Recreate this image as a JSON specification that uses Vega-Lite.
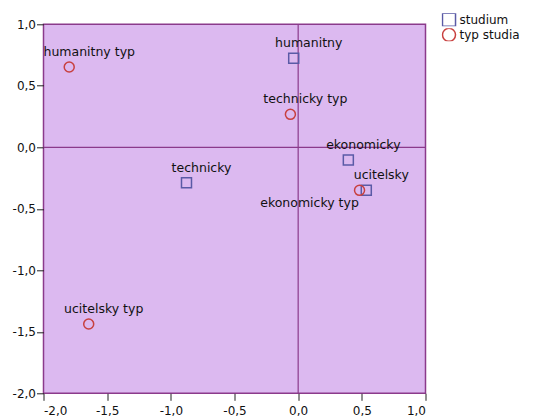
{
  "$schema": "https://vega.github.io/schema/vega-lite/v6.json",
  "width": 382,
  "height": 369,
  "autosize": {"type": "none"},
  "padding": {"left": 43.5, "top": 24.3, "right": 115, "bottom": 25.7},
  "background": "white",
  "config": {
    "view": {"fill": "#dcb9f0", "stroke": "#8b3a8b", "strokeWidth": 1.5},
    "font": "DejaVu Sans",
    "axis": {"grid": false, "domain": false, "tickColor": "#222", "tickSize": 7, "labelFontSize": 12, "labelColor": "#111", "title": null, "labelFont": "DejaVu Sans"}
  },
  "data": {
    "values": [
      {"name": "humanitny", "dim1": -0.035, "dim2": 0.724, "series": "studium"},
      {"name": "technicky", "dim1": -0.877, "dim2": -0.288, "series": "studium"},
      {"name": "ekonomicky", "dim1": 0.394, "dim2": -0.103, "series": "studium"},
      {"name": "ucitelsky", "dim1": 0.535, "dim2": -0.35, "series": "studium"},
      {"name": "humanitny typ", "dim1": -1.798, "dim2": 0.653, "series": "typ studia"},
      {"name": "technicky typ", "dim1": -0.061, "dim2": 0.268, "series": "typ studia"},
      {"name": "ekonomicky typ", "dim1": 0.482, "dim2": -0.35, "series": "typ studia"},
      {"name": "ucitelsky typ", "dim1": -1.645, "dim2": -1.437, "series": "typ studia"}
    ]
  },
  "layer": [
    {
      "data": {"values": [{"z": 0}]},
      "mark": {"type": "rule", "color": "#8b3a8b", "strokeWidth": 1.2},
      "encoding": {"x": {"field": "z", "type": "quantitative"}}
    },
    {
      "data": {"values": [{"z": 0}]},
      "mark": {"type": "rule", "color": "#8b3a8b", "strokeWidth": 1.2},
      "encoding": {"y": {"field": "z", "type": "quantitative"}}
    },
    {
      "mark": {"type": "point", "filled": false, "size": 100, "strokeWidth": 1.5, "opacity": 1},
      "encoding": {
        "x": {"field": "dim1", "type": "quantitative", "scale": {"domain": [-2, 1], "nice": false, "zero": false},
              "axis": {"values": [-2, -1.5, -1, -0.5, 0, 0.5, 1], "labelPadding": 5, "labelExpr": "replace(replace(format(datum.value, '.1f'), '.', ','), '\u2212', '-')"}},
        "y": {"field": "dim2", "type": "quantitative", "scale": {"domain": [-2, 1], "nice": false, "zero": false},
              "axis": {"values": [-2, -1.5, -1, -0.5, 0, 0.5, 1], "labelPadding": 1, "labelExpr": "replace(replace(format(datum.value, '.1f'), '.', ','), '\u2212', '-')"}},
        "color": {"field": "series", "type": "nominal", "scale": {"domain": ["studium", "typ studia"], "range": ["#5a5aa6", "#c8403f"]},
                  "legend": {"orient": "none", "legendX": 398, "legendY": -11, "title": null, "symbolSize": 170, "symbolStrokeWidth": 1.5, "labelFontSize": 12, "labelColor": "#111", "padding": 0, "rowPadding": 2, "clipHeight": 13, "labelOffset": 3}},
        "shape": {"field": "series", "type": "nominal", "scale": {"domain": ["studium", "typ studia"], "range": ["square", "circle"]}}
      }
    },
    {
      "transform": [{"filter": "datum.name !== 'humanitny typ' && datum.name !== 'ekonomicky typ'"}],
      "mark": {"type": "text", "fontSize": 12.5, "color": "#111", "align": "center", "baseline": "alphabetic", "dx": 15, "dy": -11},
      "encoding": {
        "x": {"field": "dim1", "type": "quantitative"},
        "y": {"field": "dim2", "type": "quantitative"},
        "text": {"field": "name"}
      }
    },
    {
      "transform": [{"filter": "datum.name === 'humanitny typ'"}],
      "mark": {"type": "text", "fontSize": 12.5, "color": "#111", "align": "center", "baseline": "alphabetic", "dx": 20, "dy": -11},
      "encoding": {
        "x": {"field": "dim1", "type": "quantitative"},
        "y": {"field": "dim2", "type": "quantitative"},
        "text": {"field": "name"}
      }
    },
    {
      "transform": [{"filter": "datum.name === 'ekonomicky typ'"}],
      "mark": {"type": "text", "fontSize": 12.5, "color": "#111", "align": "center", "baseline": "alphabetic", "dx": -50, "dy": 17},
      "encoding": {
        "x": {"field": "dim1", "type": "quantitative"},
        "y": {"field": "dim2", "type": "quantitative"},
        "text": {"field": "name"}
      }
    }
  ]
}
